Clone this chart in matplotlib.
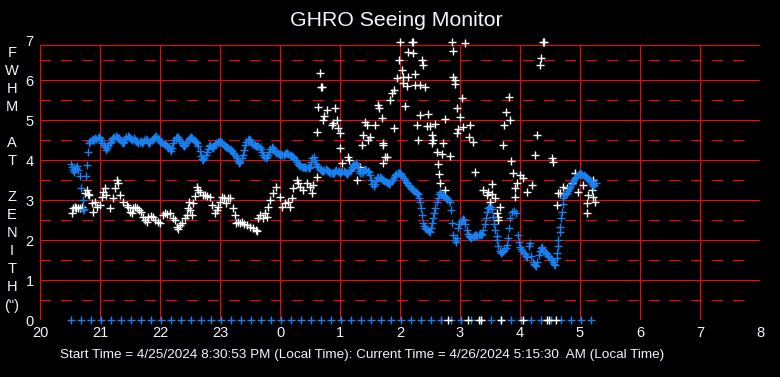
import matplotlib
matplotlib.use("Agg")
import matplotlib.pyplot as plt

plt.rcParams["font.family"] = ["Liberation Sans", "DejaVu Sans"]
plt.rcParams["lines.scale_dashes"] = False

# x = hours since midnight of start day (24 = midnight), labels wrap at 24
HOUR_TICKS = list(range(20, 33))
HOUR_LABELS = [str(h % 24) for h in HOUR_TICKS]
YLABEL_CHARS = ["F", "W", "H", "M", "", "A", "T", "", "Z", "E", "N", "I", "T", "H", '(")']

# blue series: FWHM at zenith (dense trace)
blue_t = [
    20.52, 20.54, 20.55, 20.57, 20.58, 20.60, 20.62, 20.64, 20.66, 20.69, 20.71, 20.72, 20.73,
    20.77, 20.78, 20.80, 20.82, 20.84, 20.86, 20.88, 20.90, 20.92, 20.94, 20.96, 20.98,
    21.00, 21.02, 21.04, 21.06, 21.08, 21.10, 21.12, 21.14, 21.16, 21.18, 21.20, 21.22, 21.24,
    21.26, 21.28, 21.30, 21.32, 21.34, 21.36, 21.38, 21.40, 21.42, 21.44, 21.46, 21.48, 21.50,
    21.52, 21.54, 21.56, 21.58, 21.60, 21.62, 21.64, 21.66, 21.68, 21.70, 21.72, 21.74, 21.76,
    21.78, 21.80, 21.82, 21.84, 21.86, 21.88, 21.90, 21.92, 21.94, 21.96, 21.98, 22.00, 22.02,
    22.04, 22.06, 22.08, 22.10, 22.12, 22.14, 22.16, 22.18, 22.20, 22.22, 22.24, 22.26, 22.28,
    22.30, 22.32, 22.34, 22.36, 22.38, 22.40, 22.42, 22.44, 22.46, 22.48, 22.50, 22.52, 22.54,
    22.56, 22.58, 22.60, 22.62, 22.64, 22.66, 22.68, 22.70, 22.72, 22.74, 22.76, 22.78, 22.80,
    22.82, 22.84, 22.86, 22.88, 22.90, 22.92, 22.94, 22.96, 22.98, 23.00, 23.02, 23.04, 23.06,
    23.08, 23.10, 23.12, 23.14, 23.16, 23.18, 23.20, 23.22, 23.24, 23.26, 23.28, 23.30, 23.32,
    23.34, 23.36, 23.38, 23.40, 23.42, 23.44, 23.46, 23.48, 23.50, 23.52, 23.54, 23.56, 23.58,
    23.60, 23.62, 23.64, 23.66, 23.68, 23.70, 23.72, 23.74, 23.76, 23.78, 23.80, 23.82, 23.84,
    23.86, 23.88, 23.90, 23.92, 23.94, 23.96, 23.98, 24.00, 24.02, 24.04, 24.06, 24.08, 24.10,
    24.12, 24.14, 24.16, 24.18, 24.20, 24.22, 24.24, 24.26, 24.28, 24.30, 24.32, 24.34, 24.36,
    24.38, 24.40, 24.42, 24.44, 24.46, 24.48, 24.50, 24.52, 24.54, 24.56, 24.58, 24.60, 24.62,
    24.64, 24.66, 24.68, 24.70, 24.72, 24.74, 24.76, 24.78, 24.80, 24.82, 24.84, 24.86, 24.88,
    24.90, 24.92, 24.94, 24.96, 24.98, 25.00, 25.02, 25.04, 25.06, 25.08, 25.10, 25.12, 25.14,
    25.16, 25.18, 25.20, 25.22, 25.24, 25.26, 25.28, 25.30, 25.32, 25.34, 25.36, 25.38, 25.40,
    25.42, 25.44, 25.46, 25.48, 25.50, 25.52, 25.54, 25.56, 25.58, 25.60, 25.62, 25.64, 25.66,
    25.68, 25.70, 25.72, 25.74, 25.76, 25.78, 25.80, 25.82, 25.84, 25.86, 25.88, 25.90, 25.92,
    25.94, 25.96, 25.98, 26.00, 26.02, 26.04, 26.06, 26.08, 26.10, 26.12, 26.14, 26.16, 26.18,
    26.20, 26.22, 26.24, 26.26, 26.28, 26.30, 26.32, 26.33, 26.35, 26.37, 26.38, 26.40, 26.42,
    26.44, 26.46, 26.48, 26.50, 26.52, 26.53, 26.55, 26.57, 26.59, 26.61, 26.63, 26.65, 26.67,
    26.69, 26.71, 26.73, 26.75, 26.77, 26.79, 26.81, 26.83, 26.85, 26.87, 26.88, 26.91, 26.93,
    26.95, 26.97, 26.99, 27.01, 27.03, 27.05, 27.07, 27.09, 27.11, 27.13, 27.15, 27.17, 27.19,
    27.21, 27.23, 27.25, 27.27, 27.29, 27.31, 27.33, 27.35, 27.37, 27.39, 27.41, 27.43, 27.45,
    27.47, 27.49, 27.51, 27.53, 27.55, 27.57, 27.59, 27.61, 27.62, 27.64, 27.66, 27.68, 27.70,
    27.72, 27.74, 27.76, 27.78, 27.80, 27.82, 27.84, 27.86, 27.90, 27.94, 27.96, 27.98, 28.00,
    28.02, 28.04, 28.06, 28.08, 28.10, 28.12, 28.15, 28.17, 28.19, 28.21, 28.23, 28.25, 28.27,
    28.29, 28.31, 28.33, 28.35, 28.37, 28.39, 28.41, 28.43, 28.45, 28.47, 28.49, 28.51, 28.53,
    28.55, 28.57, 28.59, 28.61, 28.62, 28.63, 28.64, 28.66, 28.67, 28.69, 28.70, 28.71, 28.72,
    28.74, 28.76, 28.78, 28.80, 28.82, 28.84, 28.86, 28.88, 28.90, 28.92, 28.94, 28.96, 28.98,
    29.00, 29.02, 29.04, 29.06, 29.08, 29.10, 29.12, 29.14, 29.16, 29.18, 29.20, 29.22, 29.24,
    29.26,
]
blue_v = [
    3.90, 3.82, 3.75, 3.70, 3.78, 3.80, 3.85, 3.75, 3.60, 3.30, 3.00, 2.75, 2.78,
    3.60, 3.87, 4.20, 4.42, 4.48, 4.50, 4.52, 4.50, 4.55, 4.52, 4.55, 4.58,
    4.55, 4.50, 4.42, 4.38, 4.32, 4.25, 4.30, 4.38, 4.42, 4.45, 4.52, 4.55, 4.58,
    4.60, 4.58, 4.55, 4.55, 4.50, 4.45, 4.42, 4.45, 4.52, 4.58, 4.60, 4.57, 4.55,
    4.52, 4.50, 4.55, 4.50, 4.47, 4.45, 4.43, 4.45, 4.48, 4.42, 4.45, 4.50, 4.52,
    4.50, 4.45, 4.42, 4.45, 4.50, 4.52, 4.55, 4.58, 4.60, 4.55, 4.50, 4.45, 4.45,
    4.42, 4.40, 4.40, 4.38, 4.35, 4.33, 4.28, 4.22, 4.30, 4.42, 4.50, 4.55, 4.58,
    4.57, 4.52, 4.48, 4.42, 4.38, 4.35, 4.38, 4.42, 4.48, 4.52, 4.55, 4.58, 4.55,
    4.50, 4.48, 4.45, 4.42, 4.35, 4.22, 4.10, 4.02, 4.00, 4.05, 4.12, 4.20, 4.28,
    4.35, 4.38, 4.33, 4.30, 4.35, 4.40, 4.42, 4.45, 4.45, 4.47, 4.45, 4.42, 4.38,
    4.35, 4.33, 4.33, 4.30, 4.28, 4.25, 4.22, 4.18, 4.15, 4.10, 4.05, 3.98, 3.92,
    3.95, 4.05, 4.12, 4.25, 4.38, 4.45, 4.50, 4.52, 4.50, 4.45, 4.40, 4.38, 4.37,
    4.35, 4.35, 4.35, 4.33, 4.27, 4.20, 4.12, 4.08, 4.05, 4.07, 4.12, 4.20, 4.28,
    4.33, 4.30, 4.25, 4.22, 4.18, 4.17, 4.15, 4.13, 4.15, 4.12, 4.12, 4.15, 4.17,
    4.17, 4.15, 4.12, 4.10, 4.10, 4.08, 4.05, 4.00, 3.95, 3.90, 3.87, 3.85, 3.83,
    3.82, 3.83, 3.82, 3.80, 3.82, 3.80, 3.83, 3.95, 4.05, 4.08, 4.00, 3.90, 3.85,
    3.82, 3.78, 3.75, 3.72, 3.72, 3.75, 3.77, 3.75, 3.72, 3.70, 3.68, 3.67, 3.67,
    3.68, 3.72, 3.75, 3.72, 3.70, 3.68, 3.70, 3.72, 3.72, 3.70, 3.67, 3.65, 3.67,
    3.72, 3.78, 3.83, 3.87, 3.90, 3.92, 3.88, 3.80, 3.72, 3.67, 3.67, 3.70, 3.75,
    3.77, 3.75, 3.72, 3.70, 3.62, 3.50, 3.40, 3.35, 3.40, 3.48, 3.55, 3.58, 3.58,
    3.55, 3.52, 3.50, 3.47, 3.45, 3.45, 3.42, 3.40, 3.42, 3.48, 3.52, 3.58, 3.62,
    3.65, 3.67, 3.68, 3.67, 3.65, 3.60, 3.55, 3.50, 3.45, 3.42, 3.38, 3.35, 3.30,
    3.28, 3.25, 3.22, 3.20, 3.18, 3.15, 3.05, 2.95, 2.80, 2.62, 2.42, 2.35, 2.30,
    2.27, 2.25, 2.22, 2.20, 2.30, 2.42, 2.55, 2.67, 2.80, 2.95, 3.05, 3.15, 3.20,
    3.15, 3.12, 3.10, 3.08, 3.05, 3.02, 3.00, 2.95, 2.75, 2.42, 2.12, 2.00, 1.95,
    2.05, 2.30, 2.40, 2.45, 2.50, 2.52, 2.50, 2.40, 2.25, 2.15, 2.10, 2.08, 2.05,
    2.08, 2.10, 2.12, 2.12, 2.10, 2.12, 2.15, 2.12, 2.15, 2.25, 2.40, 2.55, 2.70,
    2.80, 2.82, 2.83, 2.78, 2.58, 2.40, 2.25, 2.10, 2.00, 1.85, 1.72, 1.68, 1.70,
    1.73, 1.75, 1.80, 1.87, 2.05, 2.30, 2.55, 2.70, 2.72, 2.67, 2.12, 1.95, 1.83,
    1.78, 1.72, 1.68, 1.65, 1.60, 1.58, 1.85, 1.92, 1.60, 1.45, 1.40, 1.38, 1.35,
    1.45, 1.62, 1.72, 1.80, 1.82, 1.75, 1.70, 1.67, 1.65, 1.60, 1.57, 1.53, 1.50,
    1.45, 1.40, 1.37, 1.55, 1.67, 1.85, 2.00, 2.20, 2.33, 2.55, 2.70, 2.90, 3.05,
    3.12, 3.15, 3.18, 3.22, 3.28, 3.33, 3.40, 3.45, 3.50, 3.55, 3.58, 3.62, 3.65,
    3.67, 3.65, 3.62, 3.62, 3.60, 3.58, 3.55, 3.52, 3.50, 3.45, 3.40, 3.35, 3.38,
    3.42,
]

# white series: scattered FWHM readings
white_t = [
    20.53, 20.55, 20.58, 20.60, 20.63, 20.67, 20.70, 20.75, 20.78, 20.80, 20.82, 20.87, 20.88,
    20.92, 20.95, 21.00, 21.03, 21.05, 21.08, 21.10, 21.17, 21.22, 21.25, 21.28, 21.30, 21.33,
    21.38, 21.45, 21.47, 21.50, 21.53, 21.55, 21.58, 21.62, 21.65, 21.68, 21.72, 21.75, 21.78,
    21.80, 21.85, 21.88, 21.92, 21.97, 22.00, 22.05, 22.08, 22.12, 22.17, 22.22, 22.25, 22.28,
    22.30, 22.33, 22.37, 22.42, 22.45, 22.47, 22.48, 22.50, 22.53, 22.55, 22.58, 22.61, 22.63,
    22.67, 22.72, 22.75, 22.78, 22.83, 22.87, 22.92, 22.95, 22.97, 23.00, 23.03, 23.06, 23.10,
    23.13, 23.17, 23.22, 23.25, 23.27, 23.30, 23.33, 23.37, 23.40, 23.45, 23.50, 23.55, 23.60,
    23.62, 23.63, 23.67, 23.72, 23.75, 23.78, 23.80, 23.83, 23.88, 23.94, 24.00, 24.03, 24.08,
    24.13, 24.17, 24.20, 24.22, 24.28, 24.30, 24.33, 24.38, 24.45, 24.50, 24.53, 24.55, 24.62,
    24.62, 24.63, 24.67, 24.68, 24.70, 24.72, 24.73, 24.78, 24.87, 24.88, 24.92, 24.95, 24.97,
    25.00, 25.00, 25.03, 25.13, 25.15, 25.22, 25.28, 25.33, 25.37, 25.38, 25.42, 25.45, 25.47,
    25.50, 25.58, 25.63, 25.65, 25.70, 25.72, 25.72, 25.75, 25.78, 25.72, 25.83, 25.87, 25.90,
    25.90, 25.95, 25.98, 26.00, 26.03, 26.05, 26.05, 26.08, 26.12, 26.13, 26.13, 26.20, 26.21,
    26.22, 26.25, 26.25, 26.28, 26.30, 26.33, 26.33, 26.37, 26.38, 26.42, 26.45, 26.47, 26.50,
    26.53, 26.53, 26.55, 26.58, 26.62, 26.63, 26.65, 26.67, 26.70, 26.72, 26.75, 26.75, 26.83,
    26.87, 26.88, 26.88, 26.92, 26.92, 26.95, 26.95, 26.97, 27.00, 27.03, 27.05, 27.08, 27.15,
    27.17, 27.22, 27.25, 27.38, 27.45, 27.47, 27.53, 27.53, 27.58, 27.50, 27.62, 27.63, 27.63,
    27.67, 27.72, 27.73, 27.77, 27.82, 27.83, 27.85, 27.88, 27.92, 27.95, 27.92, 28.00, 28.05,
    28.12, 28.20, 28.25, 28.28, 28.33, 28.35, 28.38, 28.40, 28.53, 28.55, 28.62, 28.63, 28.67,
    28.72, 28.78, 28.87, 28.92, 28.97, 29.05, 29.12, 29.12, 29.13, 29.20, 29.22, 29.25, 29.22,
]
white_v = [
    2.67, 2.80, 2.83, 2.80, 2.80, 2.80, 2.82, 3.17, 3.25, 3.15, 3.12, 2.92, 2.70,
    2.95, 2.83, 2.87, 3.08, 3.20, 3.30, 3.12, 2.80, 3.05, 3.30, 3.50, 3.42, 3.12,
    2.95, 2.87, 2.83, 2.70, 2.67, 2.80, 2.83, 2.80, 2.75, 2.70, 2.58, 2.50, 2.45,
    2.58, 2.60, 2.58, 2.50, 2.45, 2.42, 2.62, 2.67, 2.65, 2.67, 2.55, 2.50, 2.33,
    2.28, 2.38, 2.42, 2.55, 2.62, 2.80, 2.95, 2.75, 2.62, 2.92, 3.10, 3.33, 3.25,
    3.20, 3.12, 3.12, 3.10, 3.08, 2.87, 2.67, 2.75, 2.83, 2.95, 3.08, 3.05, 2.92,
    3.05, 3.05, 2.80, 2.62, 2.42, 2.45, 2.42, 2.45, 2.40, 2.37, 2.33, 2.30, 2.25,
    2.22, 2.55, 2.62, 2.55, 2.67, 2.58, 2.83, 3.00, 3.17, 3.33, 3.08, 2.83, 2.92,
    2.95, 2.83, 3.05, 3.30, 3.50, 3.42, 3.33, 3.25, 3.42, 3.33, 3.17, 3.37, 3.58,
    4.70, 5.33, 6.17, 5.83, 5.83, 5.00, 5.10, 5.25, 4.87, 4.92, 5.30, 5.00, 4.80,
    4.67, 4.30, 3.92, 4.08, 4.00, 3.83, 3.50, 3.83, 4.37, 4.62, 4.95, 4.87, 4.50,
    4.58, 4.87, 5.37, 5.30, 5.05, 4.42, 4.37, 4.08, 4.08, 3.92, 5.50, 5.67, 5.75,
    4.80, 6.05, 6.50, 6.95, 6.25, 6.08, 5.92, 5.35, 5.85, 6.70, 6.08, 6.95, 6.95,
    6.67, 6.15, 5.87, 4.87, 4.50, 5.87, 5.12, 6.50, 6.37, 5.82, 4.85, 5.15, 4.85,
    4.62, 4.42, 4.50, 4.90, 4.20, 3.90, 3.65, 3.42, 4.15, 4.42, 5.02, 3.25, 4.10,
    6.95, 6.73, 6.08, 5.90, 6.00, 4.67, 5.30, 4.77, 5.08, 5.55, 4.83, 6.92, 4.57,
    4.87, 4.45, 3.70, 3.25, 3.12, 3.20, 3.40, 3.15, 3.05, 2.95, 2.67, 2.58, 2.50,
    2.83, 4.37, 4.87, 5.20, 5.57, 5.00, 3.97, 3.67, 3.30, 3.42, 3.08, 3.62, 3.55,
    3.20, 3.37, 4.12, 4.62, 6.37, 6.55, 6.95, 6.95, 4.05, 3.95, 2.87, 3.17, 3.17,
    3.33, 3.30, 3.42, 3.67, 3.20, 3.37, 2.92, 2.67, 3.12, 3.25, 3.08, 2.95, 3.50,
]

# zero readings along the bottom edge
blue_zero_t = [
    20.51, 20.68, 20.85, 21.01, 21.18, 21.35, 21.51, 21.68, 21.85, 22.01, 22.18, 22.35, 22.51,
    22.68, 22.85, 23.01, 23.18, 23.35, 23.51, 23.68, 23.85, 24.01, 24.18, 24.35, 24.51, 24.68,
    24.85, 25.01, 25.18, 25.35, 25.51, 25.68, 25.85, 26.01, 26.18, 26.35, 26.51, 26.68, 26.85,
    27.01, 27.18, 27.35, 27.51, 27.68, 27.85, 28.01, 28.18, 28.35, 28.51, 28.68, 28.85, 29.01,
    29.18,
]
white_zero_t = [26.80, 27.13, 27.32, 27.35, 27.68, 28.05, 28.45, 28.48, 28.60]

RED = "#ff0000"
BLUE = "#1a80f0"
TXT = "#f0f4ff"

W, H = 780, 377
fig = plt.figure(figsize=(W / 100, H / 100), dpi=100, facecolor="black")
# plot box: x 40..760 px, y 40 (value 7) .. 320 (value 0)
ax = fig.add_axes([40 / W, 1 - 320 / H, 720 / W, 280 / H], facecolor="black")
ax.set_xlim(20, 32)
ax.set_ylim(0, 7)
for s in ax.spines.values():
    s.set_visible(False)

top = 6.875  # frame top sits a little under the "7" label
grid = dict(color=RED, lw=0.72, antialiased=False, zorder=1)
for y in range(0, 7):
    ax.plot([20, 32], [y, y], **grid)
ax.plot([20, 32], [top, top], **grid)
for y in [0.5, 1.5, 2.5, 3.5, 4.5, 5.5, 6.5]:
    ax.plot([20, 31.9], [y, y], ls=(0, (7.2, 7.2)), **grid)
for x in HOUR_TICKS:
    ax.plot([x, x], [0, top], **grid)

mk = dict(ls="none", marker="+", ms=5.5, mew=1.0, clip_on=False, zorder=3)
ax.plot(white_t, white_v, color="white", **mk)
ax.plot(blue_t, blue_v, color=BLUE, **mk)
ax.plot(blue_zero_t, [0] * len(blue_zero_t), color=BLUE, **mk)
ax.plot(white_zero_t, [0] * len(white_zero_t), color="white", **mk)

ax.set_xticks(HOUR_TICKS)
ax.set_xticklabels(HOUR_LABELS)
ax.set_yticks(range(0, 8))
ax.tick_params(axis="both", length=0, colors=TXT, labelsize=10.5)
ax.tick_params(axis="x", pad=4)
ax.tick_params(axis="y", pad=4.5)

fig.text(396 / W, 1 - 21 / H, "GHRO Seeing Monitor", color=TXT, fontsize=15.3,
         ha="center", va="center")

ys = [53, 71, 89, 107, 125, 143, 161, 179, 197, 215, 233, 251, 269, 287, 306]
for ch, y in zip(YLABEL_CHARS, ys):
    if ch:
        fig.text(12 / W, 1 - y / H, ch, color=TXT, fontsize=10.5, ha="center", va="center")

fig.text(362 / W, 1 - 355 / H,
         "Start Time = 4/25/2024 8:30:53 PM (Local Time): Current Time = 4/26/2024 5:15:30  AM (Local Time)",
         color=TXT, fontsize=9.7, ha="center", va="center")

fig.savefig("out.png", dpi=100, facecolor="black")
